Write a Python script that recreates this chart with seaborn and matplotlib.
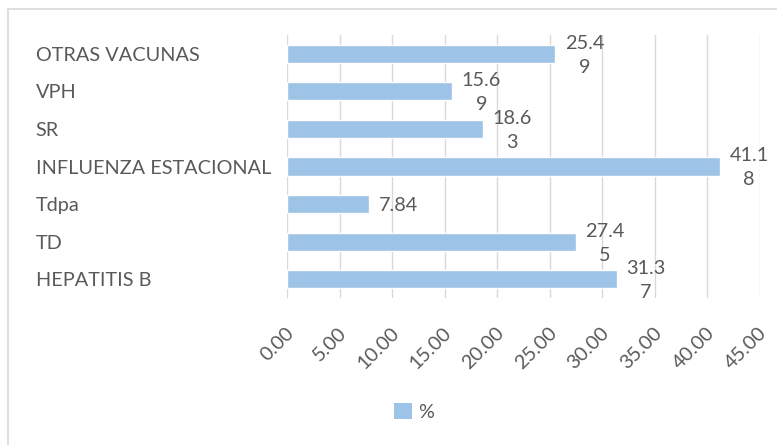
import matplotlib
matplotlib.use("Agg")
import matplotlib.pyplot as plt
import matplotlib.patches as mpatches
import matplotlib.lines as mlines
import matplotlib.transforms as mtransforms
import seaborn as sns
import pandas as pd

# Vaccines and their share (%)
categories = ["OTRAS VACUNAS", "VPH", "SR", "INFLUENZA ESTACIONAL", "Tdpa", "TD", "HEPATITIS B"]
values = [25.49, 15.69, 18.63, 41.18, 7.84, 27.45, 31.37]
xticks = [0, 5, 10, 15, 20, 25, 30, 35, 40, 45]
series_name = "%"

BAR = "#9DC3E6"
TXT = "#595959"
GRID = "#D9D9D9"
FONT = "Lato"
FS = 14.3

sns.set_theme(style="white")
plt.rcParams["font.family"] = [FONT, "DejaVu Sans"]

df = pd.DataFrame({"cat": categories, "val": values})

fig = plt.figure(figsize=(7.77, 4.45), dpi=100)
ax = fig.add_axes([287 / 777, 1 - 298 / 445, 473 / 777, 263 / 445])

sns.barplot(data=df, x="val", y="cat", orient="h", color=BAR, width=0.48,
            saturation=1, ax=ax, zorder=3)

ax.set_xlim(0, 45)
ax.set_ylim(6.5, -0.5)
ax.set_xticks(xticks)
ax.set_xticklabels([f"{t:.2f}" for t in xticks], rotation=45, ha="right",
                   va="center", rotation_mode="anchor", color=TXT, fontsize=FS)
ax.set_xlabel("")
ax.set_ylabel("")
ax.tick_params(axis="x", length=0, pad=23)
ax.tick_params(axis="y", length=0, pad=181)
shift = mtransforms.ScaledTranslation(4 / 100, 0, fig.dpi_scale_trans)
for lab in ax.get_xticklabels():
    lab.set_transform(lab.get_transform() + shift)
for lab in ax.get_yticklabels():
    lab.set_ha("left")
    lab.set_color(TXT)
    lab.set_fontsize(FS)

ax.grid(axis="x", color=GRID, lw=1, zorder=0)
ax.grid(axis="y", visible=False)
for s in ax.spines.values():
    s.set_visible(False)

# value labels: Excel-style wrapping of long numbers
for i, v in enumerate(values):
    s = f"{v:.2f}"
    if len(s) > 4:
        s = s[:4] + "\n" + s[4:]
    ax.annotate(s, xy=(v, i), xytext=(7, -1), textcoords="offset points",
                ha="left", va="center", multialignment="center",
                linespacing=1.5, color=TXT, fontsize=FS, zorder=4)

# legend
handle = mpatches.Patch(facecolor=BAR, edgecolor="none", label=series_name)
fig.legend(handles=[handle], loc="center", bbox_to_anchor=(414 / 777, 1 - 412 / 445),
           frameon=False, fontsize=FS, handlelength=0.9, handleheight=0.9,
           handletextpad=0.35, labelcolor=TXT)

# chart-area border
fig.add_artist(mlines.Line2D([8 / 777, 8 / 777], [0, 1 - 9 / 445],
                             transform=fig.transFigure, color=GRID, lw=1.2))
fig.add_artist(mlines.Line2D([8 / 777, 1], [1 - 9 / 445, 1 - 9 / 445],
                             transform=fig.transFigure, color=GRID, lw=1.2))

fig.savefig("out.png", dpi=100, facecolor="white")
